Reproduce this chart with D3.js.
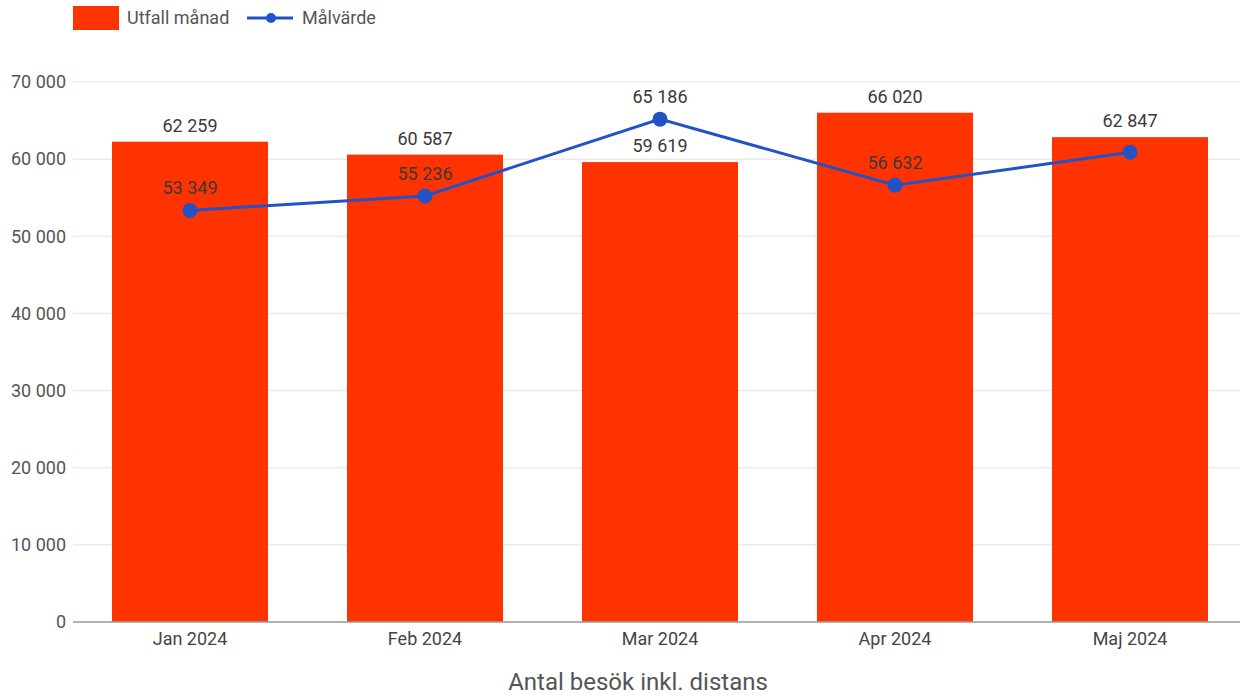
<!DOCTYPE html>
<html>
<head>
<meta charset="utf-8">
<script src="https://cdn.jsdelivr.net/npm/d3@7"></script>
<style>
  body { margin: 0; background: #fff; }
  text { font-family: Roboto, "Noto Sans", sans-serif; }
</style>
</head>
<body>
<script>
const months = ["Jan 2024", "Feb 2024", "Mar 2024", "Apr 2024", "Maj 2024"];
const utfall = [62259, 60587, 59619, 66020, 62847];
const malvarde = [53349, 55236, 65186, 56632, 60890];
// the reference hides the last target label (it collides with the bar label)
const showTargetLabel = [true, true, true, true, false];
const yTicks = [0, 10000, 20000, 30000, 40000, 50000, 60000, 70000];

const width = 1242;
const height = 696;

const fmt = v => d3.format(",")(v).replace(/,/g, " ");

const svg = d3.select("body").append("svg")
  .attr("width", width)
  .attr("height", height);

const x = d3.scaleBand()
  .domain(months)
  .range([72.5, 1247.5])
  .paddingInner(0.336)
  .paddingOuter(0.168);

const y = d3.scaleLinear()
  .domain([0, 70000])
  .range([622, 82]);

// gridlines
svg.append("g")
  .selectAll("line")
  .data(yTicks)
  .join("line")
  .attr("x1", 73).attr("x2", 1240)
  .attr("y1", d => y(d)).attr("y2", d => y(d))
  .attr("stroke", "#ebebeb")
  .attr("stroke-width", 1.5);

// y axis labels
const yAxis = d3.axisLeft(y).tickValues(yTicks).tickFormat(fmt).tickSize(0).tickPadding(0);
svg.append("g")
  .attr("transform", "translate(66,0)")
  .call(yAxis)
  .call(g => g.select(".domain").remove())
  .selectAll("text")
  .attr("font-size", 18)
  .attr("fill", "#555")
  .attr("font-family", "Roboto, sans-serif");

// bars
svg.append("g")
  .selectAll("rect")
  .data(utfall)
  .join("rect")
  .attr("x", (d, i) => x(months[i]))
  .attr("width", x.bandwidth())
  .attr("y", d => y(d))
  .attr("height", d => y(0) - y(d))
  .attr("fill", "#ff3300");

// baseline + x axis
const xAxis = d3.axisBottom(x).tickSize(0).tickPadding(10);
svg.append("g")
  .attr("transform", `translate(0,${y(0)})`)
  .call(xAxis)
  .call(g => g.select(".domain").attr("d", "M73,0H1240").attr("stroke", "#9e9e9e").attr("stroke-width", 1.5))
  .selectAll("text")
  .attr("font-size", 18)
  .attr("fill", "#444")
  .attr("font-family", "Roboto, sans-serif");

// bar labels
svg.append("g")
  .selectAll("text")
  .data(utfall)
  .join("text")
  .attr("x", (d, i) => x(months[i]) + x.bandwidth() / 2)
  .attr("y", d => y(d) - 10)
  .attr("text-anchor", "middle")
  .attr("font-size", 18)
  .attr("fill", "#3a3a3a")
  .text(fmt);

// target line
const line = d3.line()
  .x((d, i) => x(months[i]) + x.bandwidth() / 2)
  .y(d => y(d));

svg.append("path")
  .datum(malvarde)
  .attr("d", line)
  .attr("fill", "none")
  .attr("stroke", "#2352c6")
  .attr("stroke-width", 3);

svg.append("g")
  .selectAll("circle")
  .data(malvarde)
  .join("circle")
  .attr("cx", (d, i) => x(months[i]) + x.bandwidth() / 2)
  .attr("cy", d => y(d))
  .attr("r", 7.5)
  .attr("fill", "#2352c6");

svg.append("g")
  .selectAll("text")
  .data(malvarde.filter((d, i) => showTargetLabel[i]))
  .join("text")
  .attr("x", d => x(months[malvarde.indexOf(d)]) + x.bandwidth() / 2)
  .attr("y", d => y(d) - 16)
  .attr("text-anchor", "middle")
  .attr("font-size", 18)
  .attr("fill", "#3a3a3a")
  .text(fmt);

// legend
const legend = svg.append("g");
legend.append("rect")
  .attr("x", 73).attr("y", 6).attr("width", 46).attr("height", 24)
  .attr("fill", "#ff3300");
legend.append("text")
  .attr("x", 127).attr("y", 24)
  .attr("font-size", 18).attr("fill", "#555")
  .text("Utfall månad");
legend.append("line")
  .attr("x1", 247).attr("x2", 293).attr("y1", 18).attr("y2", 18)
  .attr("stroke", "#2352c6").attr("stroke-width", 3);
legend.append("circle")
  .attr("cx", 271).attr("cy", 18).attr("r", 5)
  .attr("fill", "#2352c6");
legend.append("text")
  .attr("x", 302).attr("y", 24)
  .attr("font-size", 18).attr("fill", "#555")
  .text("Målvärde");

// axis title
svg.append("text")
  .attr("x", 638).attr("y", 690)
  .attr("text-anchor", "middle")
  .attr("font-size", 24)
  .attr("fill", "#555")
  .text("Antal besök inkl. distans");
</script>
</body>
</html>
